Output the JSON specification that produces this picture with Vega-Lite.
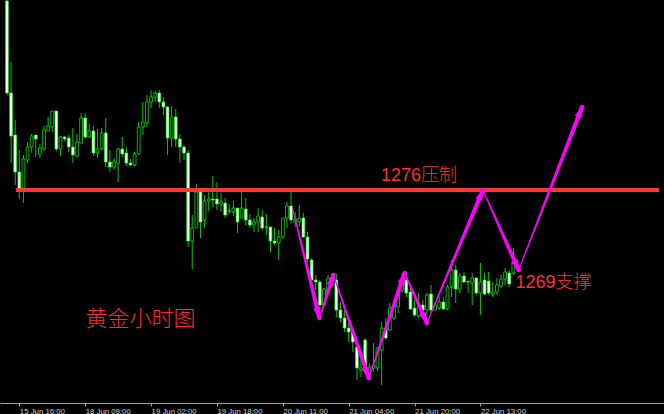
{
  "$schema": "https://vega.github.io/schema/vega-lite/v6.json",
  "width": 664,
  "height": 403,
  "autosize": {"type": "none"},
  "padding": {"left": 0, "top": 0, "right": 0, "bottom": 11},
  "background": "#000000",
  "config": {"view": {"stroke": null}},
  "datasets": {
    "candles": [
      {"i":0,"o":1294.9,"h":1295.0,"l":1285.5,"c":1285.7},
      {"i":1,"o":1285.7,"h":1288.8,"l":1278.7,"c":1281.4},
      {"i":2,"o":1281.5,"h":1283.0,"l":1276.5,"c":1277.8},
      {"i":3,"o":1277.8,"h":1280.0,"l":1275.1,"c":1276.1},
      {"i":4,"o":1276.2,"h":1279.5,"l":1274.7,"c":1279.1},
      {"i":5,"o":1279.0,"h":1280.8,"l":1278.7,"c":1280.3},
      {"i":6,"o":1280.3,"h":1281.6,"l":1279.7,"c":1281.4},
      {"i":7,"o":1281.5,"h":1281.5,"l":1279.3,"c":1281.1},
      {"i":8,"o":1279.6,"h":1280.6,"l":1279.2,"c":1280.2},
      {"i":9,"o":1280.1,"h":1282.4,"l":1279.9,"c":1282.0},
      {"i":10,"o":1281.9,"h":1283.3,"l":1281.9,"c":1282.4},
      {"i":11,"o":1282.3,"h":1283.9,"l":1281.8,"c":1283.9},
      {"i":12,"o":1283.9,"h":1283.9,"l":1279.9,"c":1280.1},
      {"i":13,"o":1280.1,"h":1281.4,"l":1279.4,"c":1281.3},
      {"i":14,"o":1281.3,"h":1281.4,"l":1280.9,"c":1281.1},
      {"i":15,"o":1281.2,"h":1281.5,"l":1279.8,"c":1280.3},
      {"i":16,"o":1280.3,"h":1282.2,"l":1278.7,"c":1279.5},
      {"i":17,"o":1279.4,"h":1281.6,"l":1279.3,"c":1280.8},
      {"i":18,"o":1280.7,"h":1283.7,"l":1280.7,"c":1283.2},
      {"i":19,"o":1283.2,"h":1283.7,"l":1281.2,"c":1281.3},
      {"i":20,"o":1281.3,"h":1282.6,"l":1281.2,"c":1281.9},
      {"i":21,"o":1281.9,"h":1282.4,"l":1279.4,"c":1279.7},
      {"i":22,"o":1279.7,"h":1282.1,"l":1279.2,"c":1280.1},
      {"i":23,"o":1280.1,"h":1282.2,"l":1280.0,"c":1281.7},
      {"i":24,"o":1281.7,"h":1283.2,"l":1278.3,"c":1278.8},
      {"i":25,"o":1278.8,"h":1280.0,"l":1277.8,"c":1278.3},
      {"i":26,"o":1278.3,"h":1279.2,"l":1278.0,"c":1278.8},
      {"i":27,"o":1278.7,"h":1280.2,"l":1276.8,"c":1280.1},
      {"i":28,"o":1280.1,"h":1281.3,"l":1279.3,"c":1279.6},
      {"i":29,"o":1279.7,"h":1280.3,"l":1278.4,"c":1278.7},
      {"i":30,"o":1278.7,"h":1279.1,"l":1278.4,"c":1278.5},
      {"i":31,"o":1278.5,"h":1279.8,"l":1278.4,"c":1279.6},
      {"i":32,"o":1279.6,"h":1282.8,"l":1279.5,"c":1282.3},
      {"i":33,"o":1282.3,"h":1284.8,"l":1281.5,"c":1282.8},
      {"i":34,"o":1282.7,"h":1285.5,"l":1282.3,"c":1284.8},
      {"i":35,"o":1284.8,"h":1286.0,"l":1284.2,"c":1285.3},
      {"i":36,"o":1285.3,"h":1285.9,"l":1284.8,"c":1285.7},
      {"i":37,"o":1285.7,"h":1286.0,"l":1284.2,"c":1284.8},
      {"i":38,"o":1284.8,"h":1285.3,"l":1283.5,"c":1284.3},
      {"i":39,"o":1284.3,"h":1284.4,"l":1279.5,"c":1281.2},
      {"i":40,"o":1281.2,"h":1284.4,"l":1280.3,"c":1283.3},
      {"i":41,"o":1283.3,"h":1284.1,"l":1280.3,"c":1281.1},
      {"i":42,"o":1281.1,"h":1281.6,"l":1278.7,"c":1280.3},
      {"i":43,"o":1280.3,"h":1280.5,"l":1279.0,"c":1279.7},
      {"i":44,"o":1279.7,"h":1280.0,"l":1270.3,"c":1270.9},
      {"i":45,"o":1270.9,"h":1273.5,"l":1268.1,"c":1272.2},
      {"i":46,"o":1272.2,"h":1276.6,"l":1272.2,"c":1275.8},
      {"i":47,"o":1275.8,"h":1276.0,"l":1271.2,"c":1272.8},
      {"i":48,"o":1273.0,"h":1275.5,"l":1272.2,"c":1274.9},
      {"i":49,"o":1274.9,"h":1276.2,"l":1273.9,"c":1275.1},
      {"i":50,"o":1275.1,"h":1277.4,"l":1274.3,"c":1275.0},
      {"i":51,"o":1275.1,"h":1276.8,"l":1274.0,"c":1274.6},
      {"i":52,"o":1274.6,"h":1275.7,"l":1273.8,"c":1274.8},
      {"i":53,"o":1274.7,"h":1275.2,"l":1273.2,"c":1273.5},
      {"i":54,"o":1273.9,"h":1274.6,"l":1273.6,"c":1273.9},
      {"i":55,"o":1273.8,"h":1274.9,"l":1273.4,"c":1274.2},
      {"i":56,"o":1274.2,"h":1274.2,"l":1271.7,"c":1272.8},
      {"i":57,"o":1273.2,"h":1275.8,"l":1273.2,"c":1274.2},
      {"i":58,"o":1274.1,"h":1275.2,"l":1272.5,"c":1273.0},
      {"i":59,"o":1273.0,"h":1273.6,"l":1272.2,"c":1272.5},
      {"i":60,"o":1272.5,"h":1273.2,"l":1271.8,"c":1272.8},
      {"i":61,"o":1272.8,"h":1274.2,"l":1271.8,"c":1273.4},
      {"i":62,"o":1273.3,"h":1274.0,"l":1272.0,"c":1272.2},
      {"i":63,"o":1272.3,"h":1273.6,"l":1271.5,"c":1272.3},
      {"i":64,"o":1272.3,"h":1272.3,"l":1269.8,"c":1270.9},
      {"i":65,"o":1270.9,"h":1272.2,"l":1270.5,"c":1270.7},
      {"i":66,"o":1270.7,"h":1272.0,"l":1269.0,"c":1271.3},
      {"i":67,"o":1271.3,"h":1273.2,"l":1271.1,"c":1273.2},
      {"i":68,"o":1273.2,"h":1274.8,"l":1272.2,"c":1274.4},
      {"i":69,"o":1274.4,"h":1276.0,"l":1272.7,"c":1273.0},
      {"i":70,"o":1272.8,"h":1273.8,"l":1272.3,"c":1273.1},
      {"i":71,"o":1272.8,"h":1274.5,"l":1272.3,"c":1273.2},
      {"i":72,"o":1273.2,"h":1273.7,"l":1271.2,"c":1271.3},
      {"i":73,"o":1271.3,"h":1271.8,"l":1268.8,"c":1269.1},
      {"i":74,"o":1269.0,"h":1269.2,"l":1266.8,"c":1267.0},
      {"i":75,"o":1267.0,"h":1267.5,"l":1266.0,"c":1266.8},
      {"i":76,"o":1266.8,"h":1267.0,"l":1264.3,"c":1264.5},
      {"i":77,"o":1264.5,"h":1266.2,"l":1264.3,"c":1266.1},
      {"i":78,"o":1265.8,"h":1267.5,"l":1265.6,"c":1267.2},
      {"i":79,"o":1266.8,"h":1267.7,"l":1266.7,"c":1267.3},
      {"i":80,"o":1267.0,"h":1267.6,"l":1263.3,"c":1264.0},
      {"i":81,"o":1264.0,"h":1264.8,"l":1262.8,"c":1263.2},
      {"i":82,"o":1263.2,"h":1264.0,"l":1261.8,"c":1262.2},
      {"i":83,"o":1262.2,"h":1262.7,"l":1260.8,"c":1261.8},
      {"i":84,"o":1261.8,"h":1262.2,"l":1259.8,"c":1260.8},
      {"i":85,"o":1260.3,"h":1260.8,"l":1257.0,"c":1258.2},
      {"i":86,"o":1258.0,"h":1259.2,"l":1257.3,"c":1258.2},
      {"i":87,"o":1261.0,"h":1261.2,"l":1258.2,"c":1258.4},
      {"i":88,"o":1257.3,"h":1258.7,"l":1257.2,"c":1258.3},
      {"i":89,"o":1258.2,"h":1260.7,"l":1257.8,"c":1258.5},
      {"i":90,"o":1258.2,"h":1260.3,"l":1257.9,"c":1260.2},
      {"i":91,"o":1260.0,"h":1262.8,"l":1256.5,"c":1262.2},
      {"i":92,"o":1262.2,"h":1263.2,"l":1261.0,"c":1261.2},
      {"i":93,"o":1262.0,"h":1264.7,"l":1261.9,"c":1264.2},
      {"i":94,"o":1263.2,"h":1265.0,"l":1263.0,"c":1264.5},
      {"i":95,"o":1264.3,"h":1266.3,"l":1263.7,"c":1265.7},
      {"i":96,"o":1266.0,"h":1267.7,"l":1265.8,"c":1267.0},
      {"i":97,"o":1267.0,"h":1267.7,"l":1265.3,"c":1265.7},
      {"i":98,"o":1265.8,"h":1266.2,"l":1264.0,"c":1264.1},
      {"i":99,"o":1264.2,"h":1265.0,"l":1263.3,"c":1263.5},
      {"i":100,"o":1263.4,"h":1265.7,"l":1263.2,"c":1264.5},
      {"i":101,"o":1264.5,"h":1265.0,"l":1263.8,"c":1264.0},
      {"i":102,"o":1264.0,"h":1265.7,"l":1263.3,"c":1265.5},
      {"i":103,"o":1265.6,"h":1266.5,"l":1263.7,"c":1264.0},
      {"i":104,"o":1264.0,"h":1264.8,"l":1264.0,"c":1264.5},
      {"i":105,"o":1264.2,"h":1265.3,"l":1264.0,"c":1264.8},
      {"i":106,"o":1264.8,"h":1265.3,"l":1264.0,"c":1264.1},
      {"i":107,"o":1264.1,"h":1266.5,"l":1264.0,"c":1266.3},
      {"i":108,"o":1266.3,"h":1269.0,"l":1265.3,"c":1268.0},
      {"i":109,"o":1268.0,"h":1268.5,"l":1264.7,"c":1266.1},
      {"i":110,"o":1266.1,"h":1267.7,"l":1265.7,"c":1267.4},
      {"i":111,"o":1267.4,"h":1267.8,"l":1266.7,"c":1266.8},
      {"i":112,"o":1266.85,"h":1267.0,"l":1265.7,"c":1266.8},
      {"i":113,"o":1266.7,"h":1267.7,"l":1264.5,"c":1267.2},
      {"i":114,"o":1267.2,"h":1267.3,"l":1265.5,"c":1265.7},
      {"i":115,"o":1265.7,"h":1268.7,"l":1263.5,"c":1266.8},
      {"i":116,"o":1267.0,"h":1267.7,"l":1265.5,"c":1265.6},
      {"i":117,"o":1266.9,"h":1267.8,"l":1265.5,"c":1265.7},
      {"i":118,"o":1265.6,"h":1266.8,"l":1265.3,"c":1265.8},
      {"i":119,"o":1265.8,"h":1267.2,"l":1265.5,"c":1266.5},
      {"i":120,"o":1266.4,"h":1267.5,"l":1266.2,"c":1267.1},
      {"i":121,"o":1267.1,"h":1268.2,"l":1266.5,"c":1267.8},
      {"i":122,"o":1267.7,"h":1268.0,"l":1266.3,"c":1266.6},
      {"i":123,"o":1267.7,"h":1270.2,"l":1267.5,"c":1268.7}
    ],
    "level": [{"p": 1276, "i0": 2.15, "i1": 158.4}],
    "arrow": [
      {"leg":1,"k":0,"i":69.3,"p":1274.3},{"leg":1,"k":1,"i":75.9,"p":1263.2},
      {"leg":2,"k":0,"i":75.9,"p":1263.2},{"leg":2,"k":1,"i":79.3,"p":1267.5},
      {"leg":3,"k":0,"i":79.3,"p":1267.5},{"leg":3,"k":1,"i":87.9,"p":1257.2},
      {"leg":4,"k":0,"i":87.9,"p":1257.2},{"leg":4,"k":1,"i":96.6,"p":1267.7},
      {"leg":5,"k":0,"i":96.6,"p":1267.7},{"leg":5,"k":1,"i":102.0,"p":1262.7},
      {"leg":6,"k":0,"i":102.0,"p":1262.7},{"leg":6,"k":1,"i":115.6,"p":1276.0},
      {"leg":7,"k":0,"i":115.6,"p":1276.0},{"leg":7,"k":1,"i":124.3,"p":1268.0},
      {"leg":8,"k":0,"i":124.3,"p":1268.0},{"leg":8,"k":1,"i":139.7,"p":1284.3}
    ],
    "notes": [
      {"t":"1276压制","i":90.84,"p":1277.45,"kind":"level"},
      {"t":"1269支撑","i":123.5,"p":1266.75,"kind":"level"},
      {"t":"黄金小时图","i":19.1,"p":1263.13,"kind":"title"}
    ]
  },
  "layer": [
    {
      "data": {"name": "candles"},
      "mark": {"type": "rule", "color": "#00c800", "strokeWidth": 1},
      "encoding": {
        "x": {
          "field": "i", "type": "quantitative",
          "scale": {"domain": [-0.48, 158.37], "nice": false, "zero": false},
          "axis": {
            "values": [3, 19, 35, 51, 67, 83, 99, 115],
            "labelExpr": "['15 Jun 16:00','18 Jun 09:00','19 Jun 02:00','19 Jun 18:00','20 Jun 11:00','21 Jun 04:00','21 Jun 20:00','22 Jun 13:00'][round((datum.value - 3) / 16)]",
            "title": null, "grid": false,
            "domainColor": "#a0a0a0", "domainWidth": 1,
            "tickColor": "#a0a0a0", "tickSize": 3, "tickWidth": 1,
            "labelColor": "#d0d0d0", "labelFont": "Liberation Sans", "labelFontSize": 7.8,
            "labelAlign": "left", "labelBaseline": "alphabetic", "labelPadding": 7,
            "labelFlush": false, "labelOverlap": false, "labelBound": false
          }
        },
        "y": {
          "field": "l", "type": "quantitative",
          "scale": {"domain": [1254.7, 1295], "nice": false, "zero": false},
          "axis": null
        },
        "y2": {"field": "h"}
      }
    },
    {
      "data": {"name": "candles"},
      "mark": {"type": "bar", "size": 2.8, "stroke": "#00ff00", "strokeWidth": 0.7},
      "encoding": {
        "x": {"field": "i", "type": "quantitative"},
        "y": {"field": "o", "type": "quantitative"},
        "y2": {"field": "c"},
        "fill": {"condition": {"test": "datum.c > datum.o", "value": "#000000"}, "value": "#ffffff"}
      }
    },
    {
      "data": {"name": "level"},
      "mark": {"type": "rule", "color": "#ff3535", "strokeWidth": 4},
      "encoding": {
        "x": {"field": "i0", "type": "quantitative"},
        "x2": {"field": "i1"},
        "y": {"field": "p", "type": "quantitative"}
      }
    },
    {
      "data": {"name": "arrow"},
      "mark": {"type": "trail", "color": "#ff00ff"},
      "encoding": {
        "x": {"field": "i", "type": "quantitative"},
        "y": {"field": "p", "type": "quantitative"},
        "detail": {"field": "leg", "type": "nominal"},
        "order": {"field": "k", "type": "quantitative"},
        "size": {"field": "k", "type": "quantitative", "scale": {"domain": [0, 1], "range": [1, 4.5]}, "legend": null}
      }
    },
    {
      "data": {"name": "arrow"},
      "transform": [
        {"window": [{"op": "lag", "field": "i", "as": "pi"}, {"op": "lag", "field": "p", "as": "pp"}], "groupby": ["leg"], "sort": [{"field": "k", "order": "ascending"}]},
        {"filter": "datum.k == 1"},
        {"calculate": "atan2((datum.i - datum.pi) * 4.18, (datum.p - datum.pp) * 10) * 180 / PI", "as": "ang"}
      ],
      "mark": {"type": "point", "shape": "M0,0L0.55,1.5L-0.55,1.5Z", "filled": true, "color": "#ff00ff", "opacity": 1, "size": 200, "strokeWidth": 0},
      "encoding": {
        "x": {"field": "i", "type": "quantitative"},
        "y": {"field": "p", "type": "quantitative"},
        "angle": {"field": "ang", "type": "quantitative", "scale": null}
      }
    },
    {
      "data": {"name": "notes"},
      "transform": [{"filter": "datum.kind == 'level'"}],
      "mark": {"type": "text", "align": "left", "baseline": "middle", "font": "Liberation Sans, Noto Sans CJK SC", "fontSize": 18, "fontWeight": 300, "color": "#ff3030"},
      "encoding": {
        "x": {"field": "i", "type": "quantitative"},
        "y": {"field": "p", "type": "quantitative"},
        "text": {"field": "t"}
      }
    },
    {
      "data": {"name": "notes"},
      "transform": [{"filter": "datum.kind == 'title'"}],
      "mark": {"type": "text", "align": "left", "baseline": "middle", "font": "Noto Sans CJK SC", "fontSize": 22, "fontWeight": 300, "color": "#ff2a2a"},
      "encoding": {
        "x": {"field": "i", "type": "quantitative"},
        "y": {"field": "p", "type": "quantitative"},
        "text": {"field": "t"}
      }
    }
  ]
}
